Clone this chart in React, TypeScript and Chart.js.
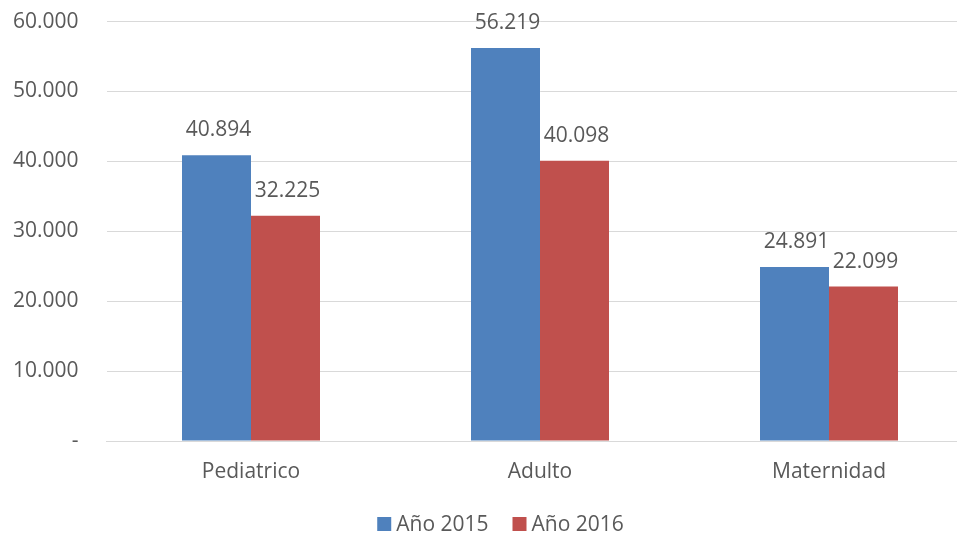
import React, { useEffect, useRef } from "react";
import { Chart, registerables } from "chart.js";

Chart.register(...registerables);

const categories = ["Pediatrico", "Adulto", "Maternidad"];
const series2015 = [40894, 56219, 24891];
const series2016 = [32225, 40098, 22099];
const seriesNames = ["Año 2015", "Año 2016"];
const seriesColors = ["#4F81BD", "#C0504D"];

const FONT = "'Open Sans', sans-serif";
const TEXT = "#595959";
const SHIFT = 19; // canvas is shifted up to place the plot top at ~22px

function fmt(v: number): string {
  if (v === 0) return "-";
  return Math.round(v).toString().replace(/\B(?=(\d{3})+(?!\d))/g, ".");
}

const labelPlugin = {
  id: "barLabels",
  afterDatasetsDraw(chart: any) {
    const ctx = chart.ctx;
    ctx.save();
    ctx.font = `21px ${FONT}`;
    ctx.fillStyle = TEXT;
    ctx.textAlign = "center";
    ctx.textBaseline = "alphabetic";
    chart.data.datasets.forEach((ds: any, i: number) => {
      const meta = chart.getDatasetMeta(i);
      meta.data.forEach((el: any, j: number) => {
        ctx.fillText(fmt(ds.data[j]), el.x + 2, el.y - 19);
      });
    });
    ctx.restore();
  },
};

const legendPlugin = {
  id: "customLegend",
  afterDraw(chart: any) {
    const ctx = chart.ctx;
    ctx.save();
    ctx.font = `21px ${FONT}`;
    const box = 14;
    const gapText = 5;
    const gapItem = 24;
    const items = chart.data.datasets.map((ds: any) => ({
      text: ds.label,
      color: ds.backgroundColor,
      w: ctx.measureText(ds.label).width,
    }));
    let total = 0;
    items.forEach((it: any, i: number) => {
      total += box + gapText + it.w + (i < items.length - 1 ? gapItem : 0);
    });
    let x = chart.width / 2 - total / 2;
    const cy = chart.chartArea.bottom + 83;
    ctx.textBaseline = "middle";
    ctx.textAlign = "left";
    items.forEach((it: any) => {
      ctx.fillStyle = it.color;
      ctx.fillRect(x, cy - box / 2, box, box);
      x += box + gapText;
      ctx.fillStyle = TEXT;
      ctx.fillText(it.text, x, cy + 1);
      x += it.w + gapItem;
    });
    ctx.restore();
  },
};

export default function App() {
  const ref = useRef<HTMLCanvasElement | null>(null);
  useEffect(() => {
    if (!ref.current) return;
    const chart = new Chart(ref.current, {
      type: "bar",
      data: {
        labels: categories,
        datasets: [
          {
            label: seriesNames[0],
            data: series2015,
            backgroundColor: seriesColors[0],
            borderWidth: 0,
            categoryPercentage: 0.4775,
            barPercentage: 1,
          },
          {
            label: seriesNames[1],
            data: series2016,
            backgroundColor: seriesColors[1],
            borderWidth: 0,
            categoryPercentage: 0.4775,
            barPercentage: 1,
          },
        ],
      },
      options: {
        animation: false,
        responsive: false,
        devicePixelRatio: 1,
        layout: { padding: { left: 0, right: 27.5, top: 0, bottom: 41 } },
        plugins: {
          tooltip: { enabled: false },
          legend: { display: false },
        },
        scales: {
          x: {
            grid: { display: false, drawTicks: false },
            border: { display: true, color: "#D9D9D9", width: 1 },
            ticks: { font: { family: FONT, size: 21 }, color: TEXT, padding: 18 },
            afterFit: (s: any) => {
              s.height = 63;
            },
          },
          y: {
            min: 0,
            max: 60000,
            ticks: {
              stepSize: 10000,
              font: { family: FONT, size: 21 },
              color: TEXT,
              padding: 28,
              callback: (v: any) => fmt(Number(v)),
            },
            grid: { color: "#D9D9D9", lineWidth: 1, drawTicks: false },
            border: { display: false },
            afterFit: (s: any) => {
              s.width = 106.5;
            },
          },
        },
      },
      plugins: [labelPlugin, legendPlugin],
    });
    return () => chart.destroy();
  }, []);
  return (
    <div
      style={{
        position: "absolute",
        left: 0,
        top: 0,
        width: 957,
        height: 534,
        overflow: "hidden",
        background: "#fff",
      }}
    >
      <canvas
        ref={ref}
        width={1001}
        height={564}
        style={{ display: "block", position: "absolute", left: 0, top: -SHIFT }}
      />
    </div>
  );
}
